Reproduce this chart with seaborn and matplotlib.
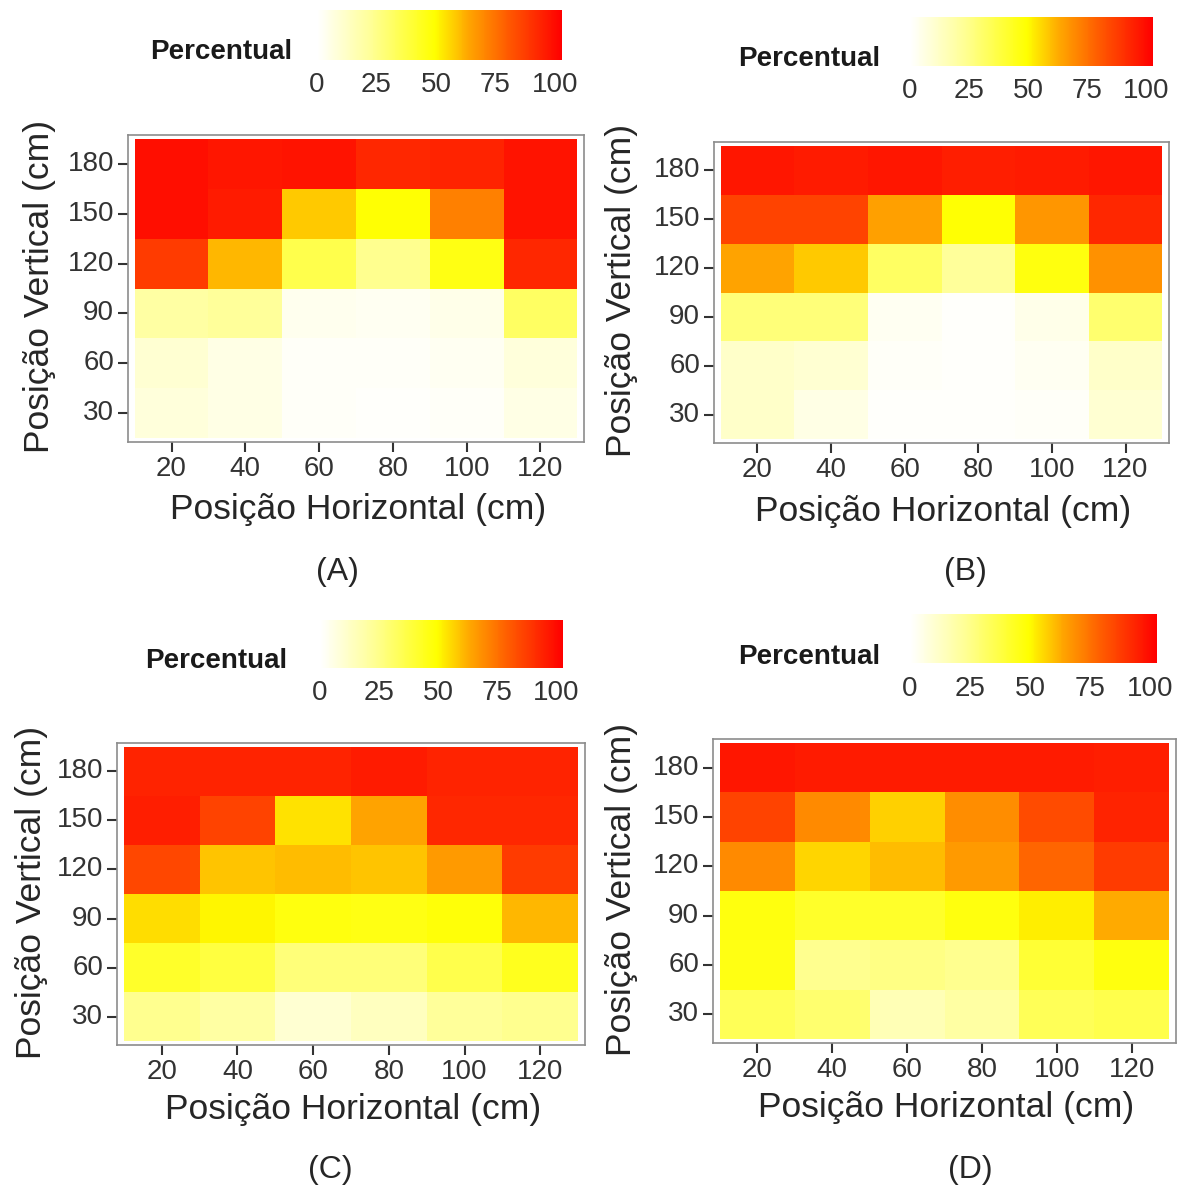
import numpy as np
import pandas as pd
import matplotlib
matplotlib.use("Agg")
import matplotlib.pyplot as plt
import seaborn as sns
from matplotlib.colors import LinearSegmentedColormap

sns.set_style("white")
plt.rcParams['font.family'] = ['Liberation Sans', 'DejaVu Sans']

# -------------------------------------
# Data (percentual per cell)
# -------------------------------------
horizontal = [20, 40, 60, 80, 100, 120]
vertical = [180, 150, 120, 90, 60, 30]   # top row first

panel_a = [
    [99, 97, 98, 93, 94, 98],
    [99, 96, 58, 49, 72, 98],
    [88, 61, 36, 24, 46, 93],
    [20, 22, 4, 3, 5, 32],
    [10, 6, 2, 2, 3, 8],
    [8, 6, 2, 1, 2, 6],
]
panel_b = [
    [97, 96, 97, 95, 96, 97],
    [86, 86, 65, 49, 67, 93],
    [64, 58, 32, 22, 47, 68],
    [28, 28, 3, 1, 5, 30],
    [12, 10, 2, 1, 3, 12],
    [12, 6, 1, 1, 2, 10],
]
panel_c = [
    [94, 94, 94, 96, 94, 94],
    [95, 86, 54, 64, 93, 93],
    [85, 59, 60, 59, 66, 88],
    [55, 51, 47, 46, 48, 61],
    [42, 38, 28, 28, 36, 44],
    [24, 20, 10, 14, 22, 24],
]
panel_d = [
    [97, 96, 96, 96, 96, 95],
    [86, 70, 57, 69, 84, 94],
    [70, 56, 60, 66, 78, 88],
    [47, 42, 42, 47, 52, 63],
    [46, 24, 26, 24, 40, 47],
    [34, 30, 16, 20, 34, 36],
]
panel_labels = ["(A)", "(B)", "(C)", "(D)"]
cbar_ticks = [0, 25, 50, 75, 100]

cmap = LinearSegmentedColormap.from_list(
    "heat", [(0.0, "#FFFFFF"), (0.22, "#FFFF96"), (0.48, "#FFFF00"),
             (0.62, "#FFA500"), (0.78, "#FF5A00"), (1.0, "#FF0000")])

W, H = 1178, 1188
fig = plt.figure(figsize=(W / 100, H / 100), dpi=100)


def box(x0, y0, x1, y1):
    # pixel box -> figure fraction
    return [x0 / W, 1 - y1 / H, (x1 - x0) / W, (y1 - y0) / H]


# layout per panel: axes box, colorbar box, title pos, label pos, ylabel x, xlabel y
layout = [
    dict(ax=(128, 135, 584, 442), cb=(317, 10, 562, 60), title=(292, 52), lab=(337, 572), yl=40, xl=510),
    dict(ax=(714, 142, 1169, 443), cb=(910, 17, 1153, 66), title=(880, 59), lab=(965, 572), yl=622, xl=512),
    dict(ax=(117, 743, 585, 1045), cb=(320, 620, 563, 668), title=(287, 661), lab=(330, 1170), yl=32, xl=1110),
    dict(ax=(713, 739, 1176, 1043), cb=(910, 614, 1157, 663), title=(880, 657), lab=(970, 1170), yl=622, xl=1108),
]

panels = [panel_a, panel_b, panel_c, panel_d]

for vals, lay, lab in zip(panels, layout, panel_labels):
    df = pd.DataFrame(vals, index=vertical, columns=horizontal)
    ax = fig.add_axes(box(*lay["ax"]))
    cax = fig.add_axes(box(*lay["cb"]))
    sns.heatmap(df, ax=ax, cmap=cmap, vmin=0, vmax=103, cbar_ax=cax,
                cbar_kws={"orientation": "horizontal", "ticks": cbar_ticks},
                xticklabels=horizontal, yticklabels=vertical)
    ax.set_xlim(-0.09, 6.09)
    ax.set_ylim(6.08, -0.08)
    for s in ax.spines.values():
        s.set_visible(True)
        s.set_color("#8c8c8c")
        s.set_linewidth(1.2)
    ax.tick_params(axis="both", which="both", direction="out", length=7, width=1.5,
                   color="#333333", labelsize=20, labelcolor="#333333", pad=3,
                   left=True, bottom=True)
    ax.set_yticklabels(vertical, rotation=0)
    ax.set_xticklabels(horizontal, rotation=0)
    ax.set_xlabel("")
    ax.set_ylabel("")

    # axis titles
    x0, y0, x1, y1 = lay["ax"]
    fig.text(((x0 + x1) / 2 + 2) / W, 1 - lay["xl"] / H, "Posição Horizontal (cm)",
             ha="center", va="center", fontsize=25.5)
    fig.text(lay["yl"] / W, 1 - ((y0 + y1) / 2 - 2) / H, "Posição Vertical (cm)",
             ha="center", va="center", rotation=90, fontsize=25.5)

    # colorbar styling
    cbar = ax.collections[0].colorbar
    cbar.outline.set_visible(False)
    cax.xaxis.set_ticks_position("both")
    cax.tick_params(axis="x", which="both", direction="in", color="white", length=9,
                    width=1, labelsize=20, labelcolor="#333333", pad=9,
                    labeltop=False, labelbottom=True)
    cax.tick_params(axis="x", which="minor", length=0)
    fig.text(lay["title"][0] / W, 1 - lay["title"][1] / H, "Percentual",
             ha="right", va="center", fontsize=20, fontweight="bold", color="#1a1a1a")

    fig.text(lay["lab"][0] / W, 1 - lay["lab"][1] / H, lab,
             ha="center", va="center", fontsize=23)

plt.savefig("out.png", dpi=100)
